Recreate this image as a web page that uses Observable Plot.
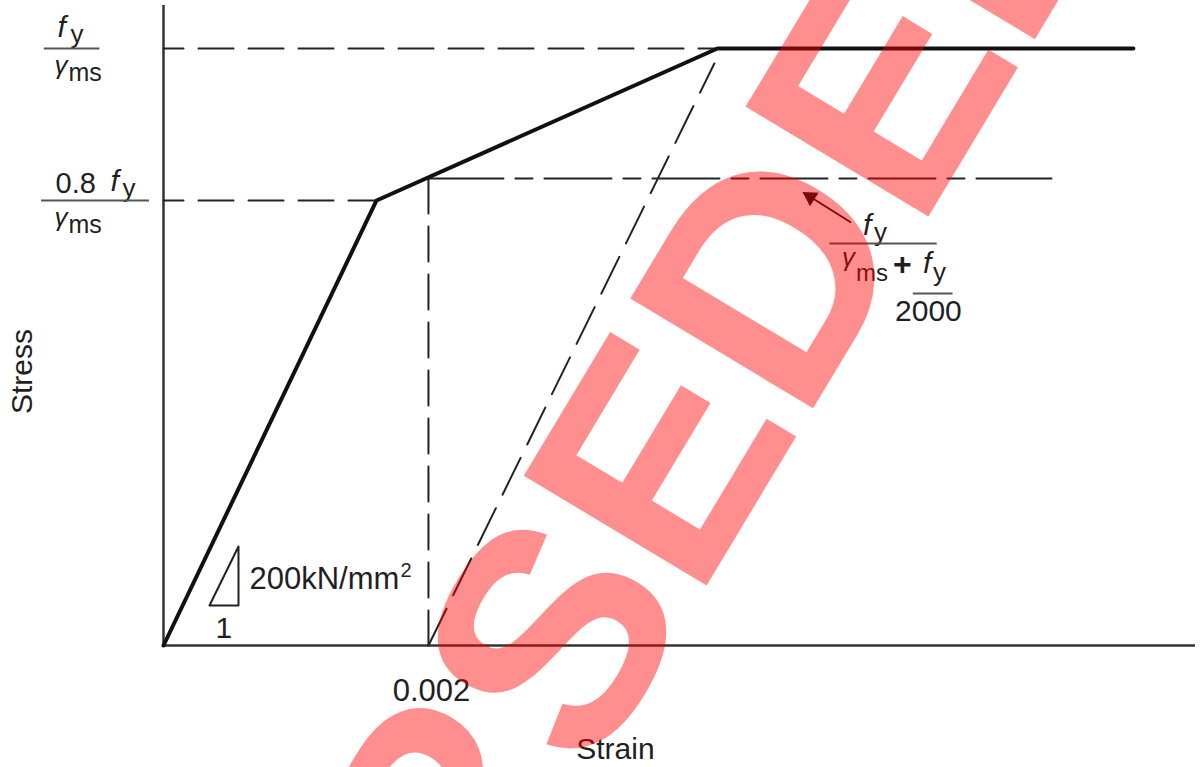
<!DOCTYPE html>
<html>
<head>
<meta charset="utf-8">
<script src="https://cdn.jsdelivr.net/npm/d3@7"></script>
<script src="https://cdn.jsdelivr.net/npm/@observablehq/plot@0.6"></script>
<style>
  html, body { margin: 0; padding: 0; background: #fff; }
  #chart svg { display: block; }
</style>
</head>
<body>
<div id="chart"></div>
<script>
// ---- data (strain, normalised stress f/(fy/γms)) ----
const designCurve = [
  {strain: 0,        stress: 0},
  {strain: 0.001608, stress: 0.7454},
  {strain: 0.004181, stress: 1.0},
  {strain: 0.007321, stress: 1.0}
];
const yieldLevel = [{strain: 0, stress: 1.0}, {strain: 0.004181, stress: 1.0}];
const elasticLimit = [{strain: 0, stress: 0.7454}, {strain: 0.001608, stress: 0.7454}];
const proofLevel = [{strain: 0.002, stress: 0.7822}, {strain: 0.006732, stress: 0.7822}];
const proofDrop = [{strain: 0.002, stress: 0}, {strain: 0.002, stress: 0.7822}];
const offsetLine = [{strain: 0.002, stress: 0}, {strain: 0.004158, stress: 0.9749}];
const slopeTriangle = [
  {strain: 0.000347, stress: 0.0670},
  {strain: 0.000566, stress: 0.0670},
  {strain: 0.000566, stress: 0.1658},
  {strain: 0.000347, stress: 0.0670}
];
const pointer = [{x1: 0.00519, y1: 0.7085, x2: 0.00483, y2: 0.7588}];
const xTicks = [0.002];
const xTickLabels = ["0.002"];
const axisExtent = {strain: 0.00779, stress: 1.072};

const FONT = "'Liberation Sans', Arial, Helvetica, sans-serif";
const INK = "#1f1f1f";

// helper for pieces of math-like labels
function piece(txt, x, y, dx, dy, o = {}) {
  return Plot.text([txt], {
    x, y, dx, dy, text: d => d,
    textAnchor: "start", lineAnchor: "bottom",
    fontSize: o.size || 28, fontStyle: o.italic ? "italic" : "normal",
    fontWeight: o.weight || "normal", fill: INK
  });
}

const yTop = 1.0, yLow = 0.7454;
const pt = pointer[0];

const chart = Plot.plot({
  width: 1202, height: 767,
  marginLeft: 163, marginRight: 7, marginTop: 5, marginBottom: 122,
  x: {domain: [0, axisExtent.strain]},
  y: {domain: [0, axisExtent.stress], axis: null},
  style: {fontFamily: FONT, background: "#fff", color: INK, overflow: "hidden"},
  marks: [
    // axes lines
    Plot.ruleX([0], {y1: 0, y2: axisExtent.stress, stroke: "#333", strokeWidth: 2.5}),
    Plot.ruleY([0], {x1: 0, x2: axisExtent.strain, stroke: "#333", strokeWidth: 2.5}),
    Plot.axisX(xTicks, {tickSize: 0, tickPadding: 33, fontSize: 31, dx: 3,
      tickFormat: (d, i) => xTickLabels[i], label: null, fill: INK}),
    // construction lines
    Plot.line(yieldLevel, {x: "strain", y: "stress", stroke: "#222", strokeWidth: 2, strokeDasharray: "35,15", strokeDashoffset: 15}),
    Plot.line(elasticLimit, {x: "strain", y: "stress", stroke: "#222", strokeWidth: 2, strokeDasharray: "35,15", strokeDashoffset: 15}),
    Plot.line(proofLevel, {x: "strain", y: "stress", stroke: "#222", strokeWidth: 2, strokeDasharray: "75,12,17,12,67,12,17,12,67,12,17,12,67,12,17,12,67,12,17,12"}),
    Plot.line(proofDrop, {x: "strain", y: "stress", stroke: "#222", strokeWidth: 2, strokeDasharray: "35,13"}),
    Plot.line(offsetLine, {x: "strain", y: "stress", stroke: "#222", strokeWidth: 2, strokeDasharray: "41,15"}),
    // slope triangle
    Plot.line(slopeTriangle, {x: "strain", y: "stress", stroke: "#222", strokeWidth: 2}),
    // design curve
    Plot.line(designCurve, {x: "strain", y: "stress", stroke: "#111", strokeWidth: 4, strokeLinejoin: "miter"}),
    // pointer arrow (shaft + filled head)
    Plot.link(pointer, {x1: "x1", y1: "y1", x2: "x2", y2: "y2", stroke: "#111", strokeWidth: 1.8}),
    Plot.dot(pointer, {x: "x2", y: "y2", dx: 7, dy: 4.5, symbol: "triangle", r: 6, rotate: -57.5, fill: "#111", stroke: "none"}),
    // axis titles
    Plot.text(["Strain"], {x: 0.003411, y: 0, dy: 113, text: d => d, fontSize: 30, lineAnchor: "bottom", fill: INK}),
    Plot.text(["Stress"], {x: 0, y: 0.459, dx: -141, text: d => d, fontSize: 30, rotate: -90, fill: INK}),
    // slope annotation
    Plot.text(["200kN/mm"], {x: 0.000566, y: 0.067, dx: 11, dy: -17, text: d => d, fontSize: 31, textAnchor: "start", lineAnchor: "bottom", fill: INK}),
    Plot.text(["2"], {x: 0.000566, y: 0.067, dx: 162, dy: -29, text: d => d, fontSize: 20, textAnchor: "start", lineAnchor: "bottom", fill: INK}),
    Plot.text(["1"], {x: 0.000456, y: 0.067, dy: 32, text: d => d, fontSize: 30, lineAnchor: "bottom", fill: INK}),
    // left label: fy / γms
    piece("f", 0, yTop, -106, -11, {italic: true, size: 30}),
    piece("y", 0, yTop, -93, -5, {size: 26}),
    Plot.ruleY([yTop], {x1: -0.0009, x2: -0.00048, stroke: "#555", strokeWidth: 2}),
    piece("γ", 0, yTop, -109, 26, {italic: true, size: 26}),
    piece("ms", 0, yTop, -95, 33, {size: 25}),
    // left label: 0.8 fy / γms
    piece("0.8", 0, yLow, -108, -7, {size: 29}),
    piece("f", 0, yLow, -53, -9, {italic: true, size: 30}),
    piece("y", 0, yLow, -41, -3, {size: 26}),
    Plot.ruleY([yLow], {x1: -0.00092, x2: -0.000106, stroke: "#555", strokeWidth: 2}),
    piece("γ", 0, yLow, -109, 26, {italic: true, size: 26}),
    piece("ms", 0, yLow, -95, 33, {size: 25}),
    // right label: fy / (γms + fy/2000)
    piece("f", pt.x1, pt.y1, 12, 12, {italic: true, size: 30}),
    piece("y", pt.x1, pt.y1, 23, 18, {size: 26}),
    Plot.ruleY([0.6734], {x1: 0.00503, x2: 0.00584, stroke: "#555", strokeWidth: 2}),
    piece("γ", pt.x1, pt.y1, -9, 43, {italic: true, size: 26}),
    piece("ms", pt.x1, pt.y1, 5, 58, {size: 24}),
    piece("+", pt.x1, pt.y1, 42, 52, {size: 32, weight: "bold"}),
    piece("f", pt.x1, pt.y1, 72, 50, {italic: true, size: 30}),
    piece("y", pt.x1, pt.y1, 82, 58, {size: 26}),
    Plot.ruleY([0.5896], {x1: 0.00566, x2: 0.00596, stroke: "#555", strokeWidth: 2}),
    piece("2000", pt.x1, pt.y1, 44, 98, {size: 30}),
    // watermark
    Plot.text(["SUPERSEDED"], {x: 0.002543, y: -0.1256, dx: 4, dy: 9, text: d => d, rotate: -59,
      fontSize: 310, fontWeight: "bold", fill: "#ff0000", fillOpacity: 0.44})
  ]
});
document.getElementById("chart").appendChild(chart);
</script>
</body>
</html>
